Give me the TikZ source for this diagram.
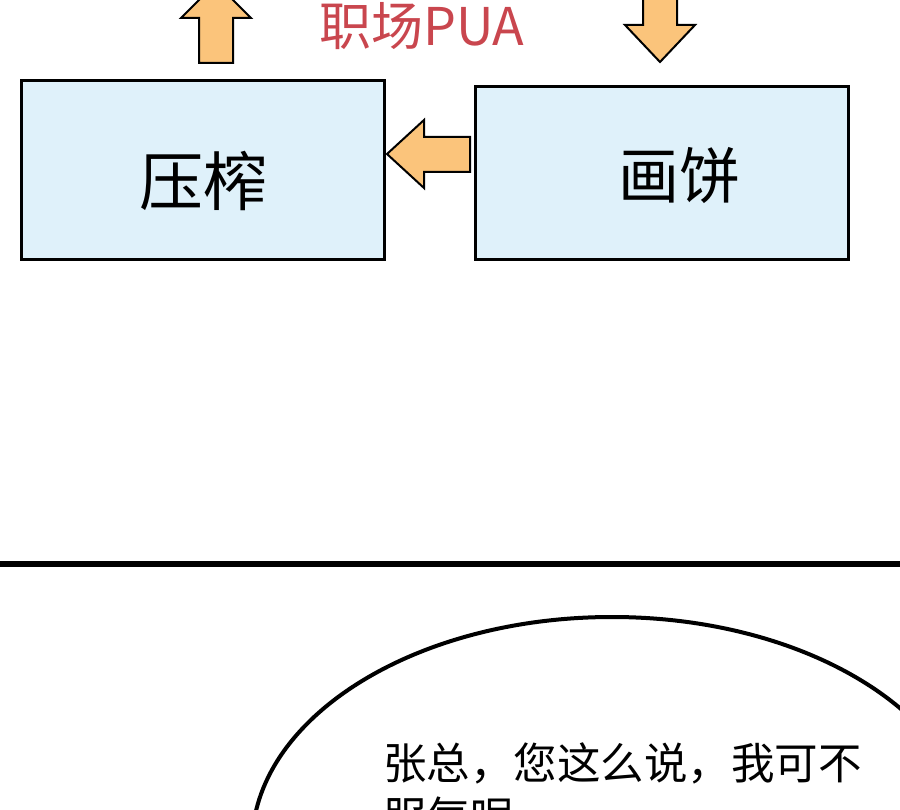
\documentclass[tikz,border=0pt]{standalone}
\usepackage{fontspec}
\setmainfont{Noto Sans CJK SC}
\usepackage{xcolor}
\usetikzlibrary{positioning}
\definecolor{panelblue}{HTML}{DFF1FA}
\definecolor{arrowfill}{HTML}{FBC47B}
\definecolor{puared}{HTML}{C9464E}

\tikzset{
    panel/.style={draw=black, fill=panelblue, line width=3pt, inner sep=0pt},
    blockarrow/.style={draw=black, fill=arrowfill, line width=2pt, line join=miter},
    boxtext/.style={inner sep=0pt, font=\fontsize{#1}{#1}\selectfont},
}

\begin{document}
\begin{tikzpicture}[x=1pt, y=-1pt]
\useasboundingbox (0,0) rectangle (900,810);
\clip (0,0) rectangle (900,810);

% Boxes
\node[panel, minimum width=363, minimum height=179] (yazhabox) at (202.5,170.5) {};
\node[panel, minimum width=373, minimum height=173] (huabingbox) at (661.5,173) {};
\node[boxtext=64] (yazha) at (203.5,181) {压榨};
\node[boxtext=61] (huabing) at (679,176) {画饼};

% Title
\node[boxtext=52, text=puared] (pua) at (422,26) {职场PUA};

% Block arrows
\draw[blockarrow] % up, above yazha
    (199,63) -- (199,18) -- (181,18) -- (216,-17) -- (251,18) -- (233,18) -- (233,63) -- cycle;
\draw[blockarrow] % down, above huabing
    (643,-5) -- (643,25) -- (625,25) -- (660,62) -- (695,25) -- (677,25) -- (677,-5) -- cycle;
\draw[blockarrow] % huabing to yazha
    (470,137) -- (424,137) -- (424,120) -- (387,154) -- (424,188) -- (424,172) -- (470,172) -- cycle;

% Panel border
\draw[line width=6pt] (-5,563.7) -- (905,563.7);

% Speech bubble
\draw[line width=4pt] (612,845) ellipse [x radius=360, y radius=228];
\node[boxtext=43.5, anchor=west] (say1) at (383,763) {张总，您这么说，我可不};
\node[boxtext=43.5, anchor=west] (say2) at (383,817) {服气呢};

\end{tikzpicture}
\end{document}
